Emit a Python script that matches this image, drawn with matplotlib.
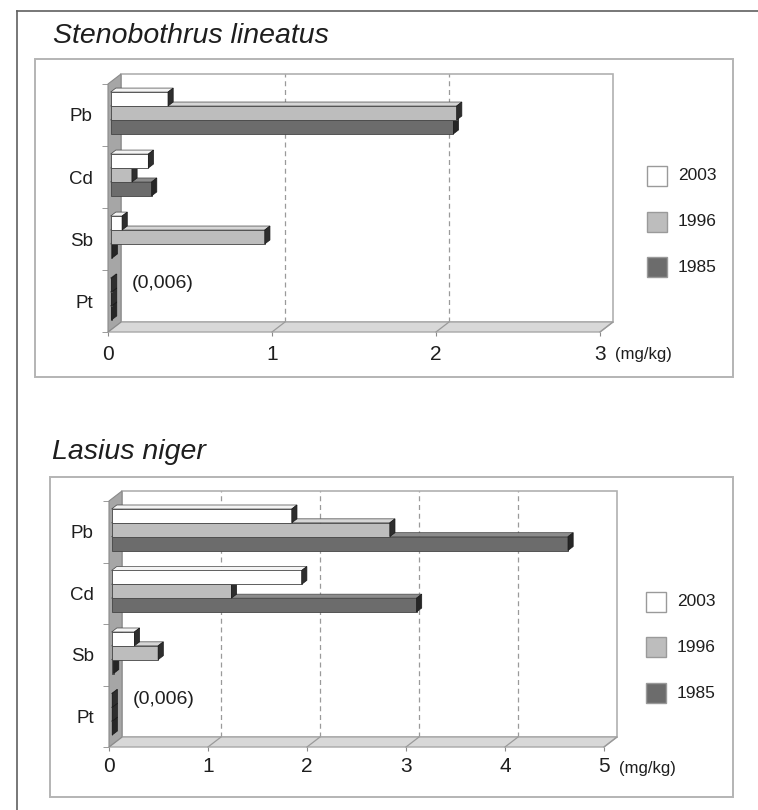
import matplotlib
matplotlib.use("Agg")
import matplotlib.pyplot as plt
from matplotlib.patches import Polygon, Rectangle
from matplotlib.lines import Line2D

plt.rcParams["font.family"] = ["Liberation Sans", "DejaVu Sans"]

# ---------------------------------------------------------------- data
elements = ["Pb", "Cd", "Sb", "Pt"]
years = ["2003", "1996", "1985"]

steno_2003 = [0.35, 0.23, 0.07, 0.006]
steno_1996 = [2.11, 0.13, 0.94, 0.006]
steno_1985 = [2.09, 0.25, 0.01, 0.006]

lasius_2003 = [1.82, 1.92, 0.23, 0.006]
lasius_1996 = [2.81, 1.21, 0.47, 0.006]
lasius_1985 = [4.61, 3.08, 0.02, 0.006]

steno_ticks = [0, 1, 2, 3]
lasius_ticks = [0, 1, 2, 3, 4, 5]

pt_note = "(0,006)"
unit_label = "(mg/kg)"

# ---------------------------------------------------------------- style
W, H, DPI = 758, 810, 100
# front / top / side shades of each series (2003, 1996, 1985)
FACE = ["#ffffff", "#bdbdbd", "#6c6c6c"]
TOP = ["#f4f4f4", "#d6d6d6", "#8c8c8c"]
SIDE = ["#2e2e2e", "#2e2e2e", "#262626"]
EDGE = "#444444"
DEPTH_PX = (13, 10)          # oblique offset of the back plane (right, up)
BAR_DEPTH = (0.2, 0.6)       # front / back of the bars as share of the depth
BAR_H = 0.225


def fig_rect(l, t, r, b):
    """pixel box (top-left origin) -> figure fraction rect"""
    return [l / W, 1 - b / H, (r - l) / W, (b - t) / H]


def fx(x):
    return x / W


def fy(y):
    return 1 - y / H


fig = plt.figure(figsize=(W / DPI, H / DPI), dpi=DPI)
fig.patch.set_facecolor("white")

# outer border lines (top and left)
fig.add_artist(Line2D([fx(17), fx(17)], [fy(11), fy(810)], color="#606060", lw=1.2,
                      transform=fig.transFigure))
fig.add_artist(Line2D([fx(17), fx(758)], [fy(11), fy(11)], color="#606060", lw=1.2,
                      transform=fig.transFigure))


def draw_panel(frame, plane, title, title_xy, series, ticks, legend_x, legend_y,
               xlabel_pad):
    # panel frame
    l, t, r, b = frame
    fig.add_artist(Rectangle((fx(l), fy(b)), fx(r) - fx(l), fy(t) - fy(b),
                             transform=fig.transFigure, fill=False,
                             edgecolor="#b4b4b4", lw=1.4))
    fig.text(fx(title_xy[0]), fy(title_xy[1]), title, fontsize=20.5, style="italic",
             color="#1e1e1e", ha="left", va="baseline")

    ax = fig.add_axes(fig_rect(*plane))
    xmax = ticks[-1]
    ncat = len(elements)
    ax.set_xlim(0, xmax)
    ax.set_ylim(0, ncat)
    pw = plane[2] - plane[0]
    ph = plane[3] - plane[1]
    ddx = DEPTH_PX[0] * xmax / pw
    ddy = DEPTH_PX[1] * ncat / ph

    # back wall
    ax.add_patch(Rectangle((ddx, ddy), xmax, ncat, facecolor="white",
                           edgecolor="#b0b0b0", lw=1.2, zorder=1, clip_on=False))
    # floor
    ax.add_patch(Polygon([(0, 0), (xmax, 0), (xmax + ddx, ddy), (ddx, ddy)],
                         closed=True, facecolor="#d8d8d8", edgecolor="#a8a8a8",
                         lw=1.0, zorder=2, clip_on=False))
    # left wall
    ax.add_patch(Polygon([(0, 0), (ddx, ddy), (ddx, ncat + ddy), (0, ncat)],
                         closed=True, facecolor="#a6a6a6", edgecolor="#8a8a8a",
                         lw=0.8, zorder=2, clip_on=False))
    # grid lines on the back wall and their traces on the floor
    for k in ticks[1:-1]:
        ax.plot([k + ddx, k + ddx], [ddy, ncat + ddy], ls=(0, (4, 3)),
                color="#9a9a9a", lw=0.9, zorder=1.5, clip_on=False)
    for k in ticks[1:]:
        ax.plot([k, k + ddx], [0, ddy], color="#9a9a9a", lw=0.9, zorder=2.5,
                clip_on=False)

    # bars
    f0, f1 = BAR_DEPTH
    centers = [ncat - 0.5 - i for i in range(ncat)]
    z = 3
    for ci, c in enumerate(centers):
        for si in (2, 1, 0):  # bottom bar first so upper bars hide its top face
            v = series[si][ci]
            y = c + (1 - si) * BAR_H
            h = BAR_H / 2
            ax.barh(y + f0 * ddy, v, height=BAR_H, left=f0 * ddx, color=FACE[si],
                    edgecolor=EDGE, lw=0.6, zorder=z, clip_on=False)
            ax.add_patch(Polygon([(f0 * ddx, y + h + f0 * ddy),
                                  (v + f0 * ddx, y + h + f0 * ddy),
                                  (v + f1 * ddx, y + h + f1 * ddy),
                                  (f1 * ddx, y + h + f1 * ddy)], closed=True,
                                 facecolor=TOP[si], edgecolor=EDGE, lw=0.5,
                                 zorder=z + 0.1, clip_on=False))
            ax.add_patch(Polygon([(v + f0 * ddx, y - h + f0 * ddy),
                                  (v + f0 * ddx, y + h + f0 * ddy),
                                  (v + f1 * ddx, y + h + f1 * ddy),
                                  (v + f1 * ddx, y - h + f1 * ddy)], closed=True,
                                 facecolor=SIDE[si], edgecolor="#1a1a1a", lw=0.5,
                                 zorder=z + 0.2, clip_on=False))
            z += 1

    # axes decorations
    for s in ax.spines.values():
        s.set_visible(False)
    ax.patch.set_visible(False)
    ax.set_xticks(ticks)
    ax.set_xticklabels([str(k) for k in ticks], fontsize=15, color="#1e1e1e")
    ax.tick_params(axis="x", length=3, color="#8a8a8a", pad=xlabel_pad)
    ax.set_yticks(centers)
    ax.set_yticklabels(elements, fontsize=13.5, color="#1e1e1e")
    ax.set_yticks(range(ncat + 1), minor=True)
    ax.tick_params(axis="y", which="major", length=0, pad=11)
    ax.tick_params(axis="y", which="minor", length=4, color="#8a8a8a")

    ax.annotate(unit_label, xy=(xmax, 0), xytext=(15, -22), textcoords="offset pixels",
                fontsize=12, color="#1e1e1e", ha="left", va="center")
    ax.annotate(pt_note, xy=(0, centers[-1]), xytext=(24, 17),
                textcoords="offset pixels", fontsize=14, color="#1e1e1e",
                ha="left", va="center")

    # legend
    for si, yy in enumerate(legend_y):
        fig.add_artist(Rectangle((fx(legend_x), fy(yy + 10)), 20 / W, 20 / H,
                                 transform=fig.transFigure, facecolor=FACE[si],
                                 edgecolor="#9a9a9a", lw=1.0))
        fig.text(fx(legend_x + 31), fy(yy), years[si], fontsize=12.5,
                 color="#1e1e1e", ha="left", va="center")
    return ax


draw_panel(frame=(35, 59, 733, 377), plane=(108, 84, 600, 332),
           title="Stenobothrus lineatus", title_xy=(53, 43),
           series=[steno_2003, steno_1996, steno_1985], ticks=steno_ticks,
           legend_x=647, legend_y=[176, 222, 267], xlabel_pad=6)

draw_panel(frame=(50, 477, 733, 797), plane=(109, 501, 604, 747),
           title="Lasius niger", title_xy=(52, 459),
           series=[lasius_2003, lasius_1996, lasius_1985], ticks=lasius_ticks,
           legend_x=646, legend_y=[602, 647, 693], xlabel_pad=4)

fig.savefig("out.png", dpi=DPI, facecolor="white")
